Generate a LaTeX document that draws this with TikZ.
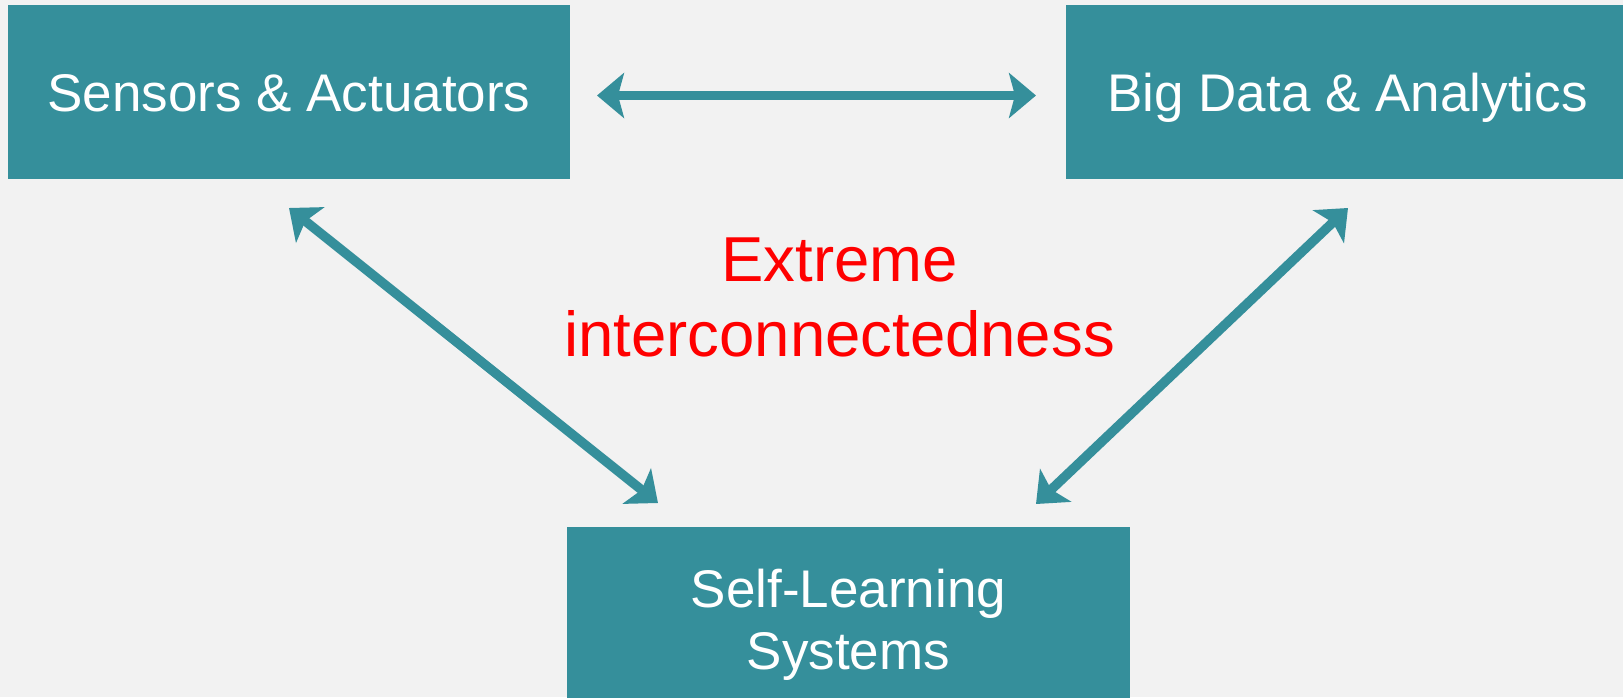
\documentclass[tikz,border=0pt]{standalone}
\usepackage{fontspec}
\setmainfont{Liberation Sans}
\usetikzlibrary{arrows.meta}
\definecolor{teal1}{HTML}{358F9B}
\definecolor{bg}{HTML}{F2F2F2}
\definecolor{redtxt}{HTML}{FF0000}
\begin{document}
\begin{tikzpicture}[x=1pt,y=-1pt,
  box/.style={fill=teal1, draw=none, inner sep=0pt, text=white, align=center,
    font=\fontsize{53}{62}\selectfont},
  oneline/.style={text height=39pt, text depth=0pt},
  link/.style={draw=teal1, line width=9.5pt,
    {Stealth[length=27pt,width=45pt,inset=6pt]}-{Stealth[length=27pt,width=45pt,inset=6pt]}},
  note/.style={text=redtxt, align=center, inner sep=0pt,
    font=\fontsize{63.5}{75}\selectfont}]
\fill[bg] (0,0) rectangle (1623,697);
\useasboundingbox (0,0) rectangle (1623,697);
\node[box, oneline, minimum width=562pt, minimum height=174pt] (sa) at (289,92) {Sensors \& Actuators};
\node[box, oneline, minimum width=563pt, minimum height=174pt] (bd) at (1347.5,92) {Big Data \& Analytics};
\node[box, minimum width=563pt, minimum height=196pt] (sl) at (848.5,625) {Self-Learning\\Systems};
\node[note] (ex) at (839.5,297) {Extreme\\interconnectedness};
\coordinate (h1) at (597,95.5);
\coordinate (h2) at (1036,95.5);
\coordinate (l1) at (289,208);
\coordinate (l2) at (658,503);
\coordinate (r1) at (1348,208);
\coordinate (r2) at (1036,504);
\draw[link] (h1) -- (h2);
\draw[link] (l1) -- (l2);
\draw[link] (r1) -- (r2);
\end{tikzpicture}
\end{document}
